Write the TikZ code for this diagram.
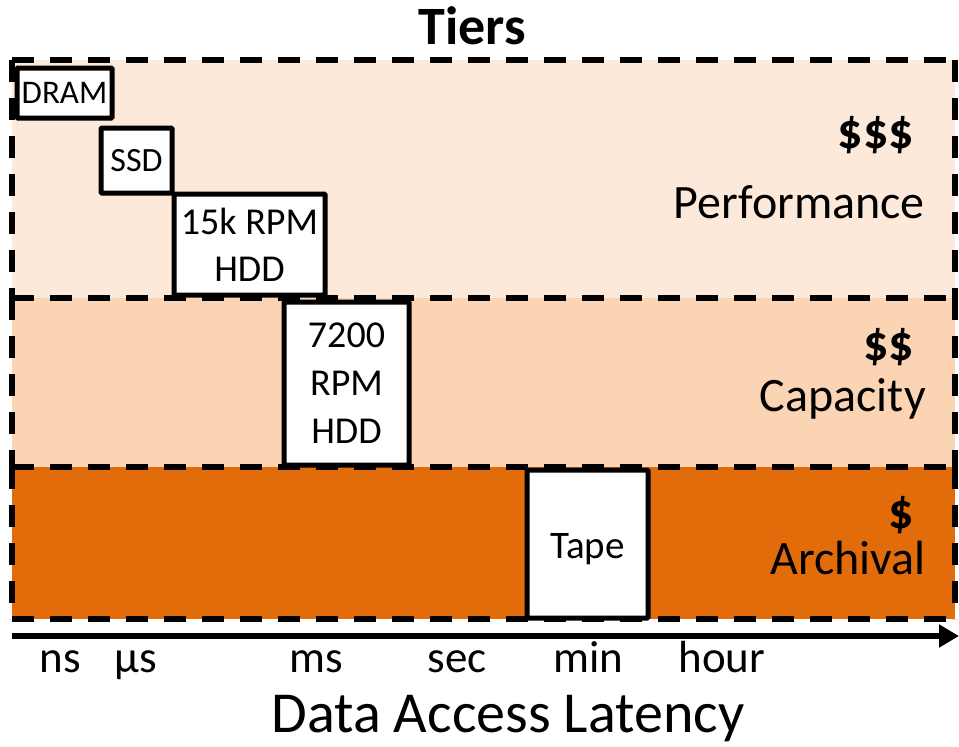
\documentclass[tikz,border=0pt]{standalone}
\usepackage{fontspec}
\setmainfont{Carlito}
\usetikzlibrary{arrows.meta}
\definecolor{perfcol}{HTML}{FDE9D9}
\definecolor{capcol}{HTML}{FBD4B4}
\definecolor{archcol}{HTML}{E36C0A}
\tikzset{
  tier/.style={line width=5.5pt, dash pattern=on 22pt off 16pt},
  device/.style={draw, fill=white, line width=5pt, rounded corners=1pt,
    inner sep=0pt, align=center},
  ticklabel/.style={anchor=base, inner sep=0pt, font=\fontsize{45}{54}\selectfont},
  costlabel/.style={anchor=base east, inner sep=0pt, font=\bfseries\fontsize{50}{60}\selectfont},
  tiername/.style={anchor=base east, inner sep=0pt, font=\fontsize{48}{56}\selectfont},
}
\begin{document}
\begin{tikzpicture}[x=1pt, y=-1pt]
\useasboundingbox (0,0) rectangle (959,747);

% tier bands
\fill[perfcol] (12,60) rectangle (955,298);
\fill[capcol]  (12,298) rectangle (955,467);
\fill[archcol] (12,467) rectangle (955,619);
\draw[tier] (12,60) -- (955,60);
\draw[tier] (12,298) -- (955,298);
\draw[tier] (12,467) -- (955,467);
\draw[tier] (12,619) -- (955,619);
\draw[tier] (12,60) -- (12,298);
\draw[tier] (12,298) -- (12,467);
\draw[tier] (12,467) -- (12,619);
\draw[tier] (955,60) -- (955,298);
\draw[tier] (955,298) -- (955,467);
\draw[tier] (955,467) -- (955,619);

% title
\node[anchor=base, inner sep=0pt, font=\bfseries\fontsize{54}{64}\selectfont] (title) at (472,44) {Tiers};

% storage devices
\node[device, minimum width=95pt, minimum height=50pt, font=\fontsize{33}{40}\selectfont] (dram) at (64.5,93) {DRAM};
\node[device, minimum width=71pt, minimum height=65pt, font=\fontsize{34}{40}\selectfont] (ssd) at (136.5,160.5) {SSD};
\node[device, minimum width=151pt, minimum height=101pt, font=\fontsize{38}{47}\selectfont] (hdd15) at (249.5,244.5) {15k RPM\\HDD};
\node[device, minimum width=125pt, minimum height=163pt, font=\fontsize{38}{48}\selectfont] (hdd72) at (346.5,383.5) {7200\\RPM\\HDD};
\node[device, minimum width=121pt, minimum height=148pt, text height=28pt, text depth=0pt, font=\fontsize{39}{44}\selectfont] (tape) at (587.5,544) {Tape};

% tier labels
\node[costlabel] (c3) at (914,148) {\$\$\$};
\node[tiername]  (t3) at (925,218.5) {Performance};
\node[costlabel] (c2) at (914,360) {\$\$};
\node[tiername]  (t2) at (926,411) {Capacity};
\node[costlabel] (c1) at (914,528) {\$};
\node[tiername]  (t1) at (926,574) {Archival};

% latency axis
\coordinate (axl) at (12,636);
\coordinate (axr) at (959,636);
\draw[line width=6pt, -{Triangle[length=20pt, width=22pt]}] (axl) -- (axr);

\node[ticklabel] (ns)   at (60,672)  {ns};
\node[ticklabel] (us)   at (136,672) {µs};
\node[ticklabel] (ms)   at (316,672) {ms};
\node[ticklabel] (sec)  at (457,672) {sec};
\node[ticklabel] (min)  at (588,672) {min};
\node[ticklabel] (hour) at (722,672) {hour};

\node[anchor=base, inner sep=0pt, font=\fontsize{58}{68}\selectfont] (axtitle) at (508,732) {Data Access Latency};
\end{tikzpicture}
\end{document}
